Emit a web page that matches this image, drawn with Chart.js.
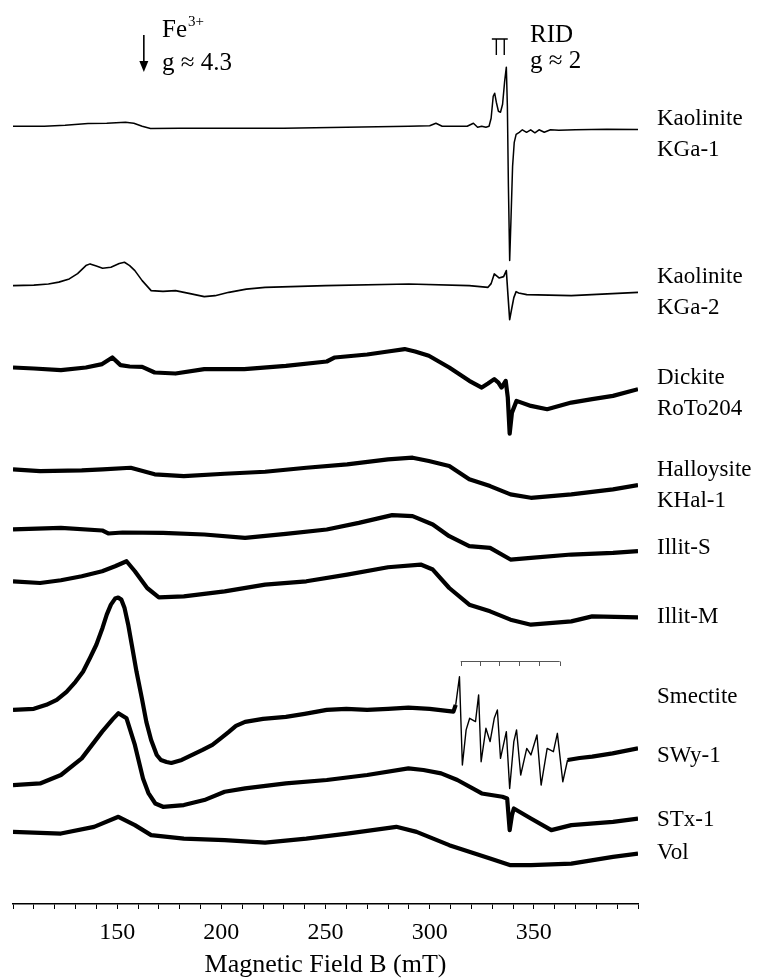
<!DOCTYPE html>
<html><head><meta charset="utf-8">
<script src="https://cdn.jsdelivr.net/npm/chart.js@4.4.0/dist/chart.umd.min.js"></script>
<style>html,body{margin:0;padding:0;background:#fff}#c{display:block}</style>
</head><body>
<canvas id="c" width="765" height="978"></canvas>
<script>
// ---------------- DATA ----------------
const axisTitle = 'Magnetic Field B (mT)';
const tickLabels = [150, 200, 250, 300, 350];
const sampleNames = ['Kaolinite KGa-1','Kaolinite KGa-2','Dickite RoTo204','Halloysite KHal-1','Illit-S','Illit-M','Smectite SWy-1','Smectite STx-1','Smectite Vol'];
// vertical stacking offsets of each spectrum (a.u.)
const offsets = [776, 617, 535.3, 433.7, 373.7, 322, 193.7, 118.7, 72];

// annotation positions (mT)
const fe3Field = 162.8;
const ridPeaks = [332.0, 335.8];
const mnHyperfine = [314.9, 324.0, 333.1, 342.7, 352.4, 362.4];

const kga1Field = [100,115,125,136,145,154,158,162,166,180,200,230,260,290,300,303,306,318,321,323,325,327,328.5,329.5,330.5,331.2,332,333,334,335,336,336.8,337.3,337.8,338.4,339,339.8,340.6,341.5,343,344.5,346.5,348.5,350.5,352.5,355,358,362,370,385,400];
const kga1Signal = [0,0,1,2.7,3,4,3,0,-2.3,-2,-2,-2,-1,0,0.5,3,0,0,3,-1,0,-1,0,8,30,33,24,15,14,22,45,59,20,-60,-134,-95,-40,-16,-8,-6,-3.5,-6,-3.5,-6.5,-3.5,-6,-3.5,-4,-3.5,-3,-3.3];

const kga2Field = [100,110,117,122,127,131,135,137,140,143,147,151,153.5,156,158.5,162,166.3,172,178,185,191.8,197,203.6,212,221,250,290,319,328,329.5,331,333.3,335.5,336.8,337.6,338.4,339.2,340.4,341.5,342.7,346.6,368,400];
const kga2Signal = [0,0.5,1.7,3.5,6.7,12,20,21.7,19.5,17.3,18.3,22,23.3,20,15,5,-5,-5.7,-5,-8,-11,-10,-6.7,-3.5,-1.7,0,1.7,0,-1.7,2,11.7,7.7,9,15,-10,-34,-25,-12,-6,-7.3,-9,-10,-6.7];

const dickField = [100,110,123,135,142.8,147.7,151.6,156,162,168,178,191.8,211,231,250.6,254.5,270,280,288,293,299.6,309.4,319,325,328,331,333,334.5,336.5,337.5,338.4,339.5,341.7,348.6,356.4,368,378,388,400];
const dickSignal = [0,-1,-2.6,0,3.4,10,2.4,1,0.7,-5,-6,-1.6,-1.6,1.7,6,10,13,16,18.4,16,11.7,0,-13.3,-20,-16,-11.6,-15,-20,-13.3,-30,-66,-45,-33.3,-38.3,-41.6,-35,-31.6,-28.3,-21.6];

const hallField = [100,113,133,143,156.5,168,182,201.6,221,240.8,260.4,280,291.8,299.6,309.4,319,329,338.8,348.6,368,388,400];
const hallSignal = [0,-1.7,-1,0,1.6,-5,-6.7,-4.4,-2.4,1.6,5,10,11.6,8.3,3.3,-10,-16.7,-25,-28.4,-25,-20,-15.7];

const illSField = [100,123,142.8,145.7,152.6,172,191.8,211.4,231,250.6,266,282,291.8,301.5,309.4,319,329,338.8,348.6,368,388,400];
const illSSignal = [0,1.6,-1,-4,-3,-3.4,-5,-8.4,-4.4,0,6.6,14.3,13.3,5,-6.7,-16.7,-18.4,-30,-28.4,-25,-23.4,-21.7];

const illMField = [100,113,123,133,142.8,149,154.5,158.5,164.4,170,182,201.6,221,240.8,260.4,280,295.7,301.5,309.4,319,329,338.8,348.6,368,378,400];
const illMSignal = [0,-1.7,1,5,10,15,20,10,-6.7,-16,-15,-10,-3.3,0,6.7,14,16.7,11.7,-6.7,-23.3,-30,-38.3,-43.3,-40,-35,-36];

const swyField = [100,110,116,121,125.7,130,133.6,137,140,143,145,147,149,150.5,152,153.5,155.3,157,159.3,162,164,166.3,169,171,173.7,176,181,186,191,195.7,200,203.6,207,211.4,220,231,240,250.6,260,270,280,289.8,300,311.4,312.5,314.3,315.7,317.5,319.2,322,323.5,324.7,327,329,331,332.5,334,336.8,338.4,340.4,341.7,343.7,346.6,348.6,351.5,353.5,356.4,359.4,361.3,363.9,366.2,372,378,387.8,400];
const swySignal = [0,1,5,10,18,28,38,52,65,82,95,105,111,112,110,102,85,65,38,10,-12,-30,-45,-50,-52,-53,-50,-45,-40,-35,-28,-22,-16,-12,-9,-7,-4,0,1,0,1,2.3,1,-1.7,5,33,-55,-20,-8.4,-11.7,15,-51.7,-18.4,-31.7,-8.4,0,-48.4,-21.7,-78.4,-31.7,-20,-65,-38.4,-45,-25,-75,-38.4,-41.7,-23.4,-71.7,-50,-48,-46.7,-43.4,-38.4];

const stxField = [100,113,123,133,142.8,148,150.6,154.5,158.5,162.4,165,168.3,172,182,191.8,201.6,211.4,231,250.6,270,289.8,297,305.5,313.3,325,334.9,337.2,338.4,339.5,340.4,348.6,358.4,368,388,400];
const stxSignal = [0,1.6,10,26.6,53.3,66,71.6,66.6,40,6.6,-8,-18.4,-21.7,-20,-15,-6.7,-3.4,1.6,5,10,16.6,15,11.6,5,-8.4,-11.7,-13.4,-45,-30,-23.4,-33.4,-45,-40,-36.7,-33.4];

const volField = [100,123,138.9,150.6,158.5,166.3,182,201.6,221,240.8,260.4,284,293.7,309.4,329,338.8,348.6,368,388,400];
const volSignal = [0,-1.7,5,15,6.7,-3.3,-6.7,-8.3,-10.7,-6.7,-1.7,5,0,-13.3,-26.7,-33.3,-33.3,-31.7,-25,-21.7];

const spectra = [
  [kga1Field, kga1Signal], [kga2Field, kga2Signal], [dickField, dickSignal],
  [hallField, hallSignal], [illSField, illSSignal], [illMField, illMSignal],
  [swyField, swySignal], [stxField, stxSignal], [volField, volSignal]
];

// ---------------- STYLE / LAYOUT ----------------
const SERIF = '"Liberation Serif", "Times New Roman", serif';
const widths = [1.5, 1.6, 4.2, 4.2, 4.2, 4.2, 4.2, 4.2, 4.2];
const labelX = 657;
const labelLines = [
  ['Kaolinite', 119], ['KGa-1', 150],
  ['Kaolinite', 277], ['KGa-2', 308],
  ['Dickite', 378], ['RoTo204', 409],
  ['Halloysite', 470], ['KHal-1', 501],
  ['Illit-S', 548], ['Illit-M', 617],
  ['Smectite', 697], ['SWy-1', 756],
  ['STx-1', 820], ['Vol', 853]
];

const datasets = spectra.map(([f, s], k) => ({
  label: sampleNames[k],
  data: f.map((b, i) => ({ x: b, y: offsets[k] + s[i] })),
  borderColor: '#000',
  borderWidth: widths[k],
  pointRadius: 0,
  tension: 0,
  fill: false,
  borderJoinStyle: 'round',
  segment: k === 6 ? {
    borderWidth: c => (c.p0.parsed.x >= 312 && c.p1.parsed.x <= 366.3) ? 1.4 : widths[k]
  } : undefined
}));

const annot = {
  id: 'annot',
  afterDatasetsDraw(chart) {
    const { ctx, scales: { x } } = chart;
    ctx.save();
    ctx.fillStyle = '#000';
    ctx.strokeStyle = '#000';
    // Fe3+ arrow
    const ax = x.getPixelForValue(fe3Field);
    ctx.lineWidth = 1.6;
    ctx.beginPath(); ctx.moveTo(ax, 35); ctx.lineTo(ax, 62); ctx.stroke();
    ctx.beginPath(); ctx.moveTo(ax - 4.5, 61); ctx.lineTo(ax + 4.5, 61); ctx.lineTo(ax, 72); ctx.closePath(); ctx.fill();
    ctx.textBaseline = 'alphabetic';
    ctx.textAlign = 'left';
    ctx.font = '25px ' + SERIF;
    ctx.fillText('Fe', 162, 37);
    const fw = ctx.measureText('Fe').width;
    ctx.font = '15px ' + SERIF;
    ctx.fillText('3+', 162 + fw + 1, 26);
    ctx.font = '25px ' + SERIF;
    ctx.fillText('g \u2248 4.3', 162, 70);
    // RID marker
    const r0 = x.getPixelForValue(ridPeaks[0]), r1 = x.getPixelForValue(ridPeaks[1]);
    ctx.lineWidth = 1.4;
    ctx.beginPath();
    ctx.moveTo(r0 - 4.5, 39); ctx.lineTo(r1 + 3.5, 39);
    ctx.moveTo(r0, 39); ctx.lineTo(r0, 55);
    ctx.moveTo(r1, 39); ctx.lineTo(r1, 55);
    ctx.stroke();
    ctx.fillText('RID', 530, 42);
    ctx.fillText('g \u2248 2', 530, 68);
    // Mn hyperfine bracket
    ctx.strokeStyle = '#555';
    ctx.lineWidth = 1;
    const h0 = x.getPixelForValue(mnHyperfine[0]), h1 = x.getPixelForValue(mnHyperfine[mnHyperfine.length - 1]);
    ctx.beginPath();
    ctx.moveTo(h0, 661.5); ctx.lineTo(h1, 661.5);
    mnHyperfine.forEach(b => { const px = Math.round(x.getPixelForValue(b)) + 0.5; ctx.moveTo(px, 661.5); ctx.lineTo(px, 666); });
    ctx.stroke();
    // sample labels
    ctx.fillStyle = '#000';
    ctx.font = '23px ' + SERIF;
    ctx.textBaseline = 'middle';
    labelLines.forEach(([t, yy]) => ctx.fillText(t, labelX, yy));
    ctx.restore();
  }
};

new Chart(document.getElementById('c'), {
  type: 'line',
  data: { datasets },
  options: {
    responsive: false,
    animation: false,
    devicePixelRatio: 1,
    layout: { padding: { left: 13, right: 127, top: 0, bottom: 0 } },
    plugins: { legend: { display: false }, tooltip: { enabled: false }, title: { display: false } },
    scales: {
      x: {
        type: 'linear', min: 100, max: 400,
        border: { display: true, color: '#000', width: 1.5 },
        grid: { drawOnChartArea: false, drawTicks: true, tickLength: 5, tickColor: '#000', tickWidth: 1 },
        ticks: {
          stepSize: 10, autoSkip: false, maxRotation: 0, padding: 12, color: '#000',
          font: { family: SERIF, size: 24, lineHeight: 1.0 },
          callback: v => tickLabels.includes(v) ? String(v) : ''
        },
        title: { display: true, text: axisTitle, color: '#000', font: { family: SERIF, size: 26, lineHeight: 1.0 }, padding: { top: -5, bottom: 0 } }
      },
      y: { type: 'linear', display: false, min: 0, max: 902 }
    }
  },
  plugins: [annot]
});
</script>
</body></html>
